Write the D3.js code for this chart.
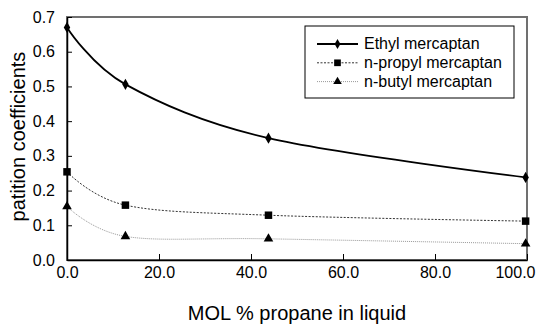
<!DOCTYPE html>
<html>
<head>
<meta charset="utf-8">
<script src="https://cdn.jsdelivr.net/npm/d3@7"></script>
<style>
  body { margin: 0; background: #fff; }
  svg { display: block; font-family: "Liberation Sans", Arial, sans-serif; }
</style>
</head>
<body>
<script>
// values
const molPropane = [0, 12.7, 43.8, 99.7];
const ethyl = [0.670, 0.506, 0.351, 0.238];
const propyl = [0.254, 0.158, 0.129, 0.112];
const butyl = [0.154, 0.068, 0.061, 0.047];
const seriesNames = ["Ethyl mercaptan", "n-propyl mercaptan", "n-butyl mercaptan"];
const xTicks = [0, 20, 40, 60, 80, 100];
const yTicks = [0, 0.1, 0.2, 0.3, 0.4, 0.5, 0.6, 0.7];

const width = 536, height = 327;
const margin = { top: 17, right: 9, bottom: 67, left: 67 };

const xScale = d3.scaleLinear().domain([0, 100]).range([margin.left, width - margin.right]);
const yScale = d3.scaleLinear().domain([0, 0.7]).range([height - margin.bottom, margin.top]);

const svg = d3.select("body").append("svg")
  .attr("width", width)
  .attr("height", height)
  .attr("viewBox", [0, 0, width, height]);

// plot frame
svg.append("rect")
  .attr("x", xScale(0))
  .attr("y", yScale(0.7))
  .attr("width", xScale(100) - xScale(0))
  .attr("height", yScale(0) - yScale(0.7))
  .attr("fill", "none")
  .attr("stroke", "#707070")
  .attr("stroke-width", 2);

const fmt = d3.format(".1f");

// axes
const xAxis = d3.axisBottom(xScale).tickValues(xTicks).tickFormat(fmt)
  .tickSizeInner(-6).tickSizeOuter(0).tickPadding(7);
const yAxis = d3.axisLeft(yScale).tickValues(yTicks).tickFormat(fmt)
  .tickSizeInner(-5).tickSizeOuter(0).tickPadding(12);

const gx = svg.append("g")
  .attr("transform", `translate(0,${yScale(0)})`)
  .call(xAxis);
const gy = svg.append("g")
  .attr("transform", `translate(${xScale(0)},0)`)
  .call(yAxis);

[gx, gy].forEach(g => {
  g.select(".domain").attr("stroke", "#000").attr("stroke-width", 1.5);
  g.selectAll(".tick line").attr("stroke", "#000");
  g.selectAll(".tick text").attr("fill", "#000").style("font-size", "16px")
    .style("font-family", "'Liberation Sans', Arial, sans-serif");
});
// last x label is pulled inside the chart, like the original
gx.selectAll(".tick text").filter(d => d === 100).attr("text-anchor", "end").attr("x", 8);

// axis titles
svg.append("text")
  .attr("x", (xScale(0) + xScale(100)) / 2)
  .attr("y", 320)
  .attr("text-anchor", "middle")
  .style("font-size", "20px")
  .text("MOL % propane in liquid");

svg.append("text")
  .attr("transform", `translate(25,${(yScale(0) + yScale(0.7)) / 2 - 2}) rotate(-90)`)
  .attr("text-anchor", "middle")
  .style("font-size", "20px")
  .text("patition coefficients");

// series
const series = [
  { name: seriesNames[0], values: ethyl, stroke: "#000", width: 1.8, dash: null, symbol: d3.symbolDiamond, size: 36 },
  { name: seriesNames[1], values: propyl, stroke: "#333", width: 1, dash: "2,1.5", symbol: d3.symbolSquare, size: 56 },
  { name: seriesNames[2], values: butyl, stroke: "#999", width: 1, dash: "1,1", symbol: d3.symbolTriangle, size: 40 }
];

const line = d3.line()
  .x((d, i) => xScale(molPropane[i]))
  .y(d => yScale(d))
  .curve(d3.curveCardinal.tension(0));

series.forEach(s => {
  svg.append("path")
    .attr("d", line(s.values))
    .attr("fill", "none")
    .attr("stroke", s.stroke)
    .attr("stroke-width", s.width)
    .attr("stroke-dasharray", s.dash);

  svg.selectAll(null)
    .data(s.values)
    .enter()
    .append("path")
    .attr("d", d3.symbol().type(s.symbol).size(s.size))
    .attr("transform", (d, i) => `translate(${xScale(molPropane[i])},${yScale(d)})`)
    .attr("fill", "#000");
});

// legend
const legend = svg.append("g");
legend.append("rect")
  .attr("x", 305).attr("y", 26)
  .attr("width", 209).attr("height", 72)
  .attr("fill", "#fff")
  .attr("stroke", "#000")
  .attr("stroke-width", 1);

series.forEach((s, i) => {
  const y = 44 + i * 18.8;
  legend.append("line")
    .attr("x1", 317).attr("x2", 358)
    .attr("y1", y).attr("y2", y)
    .attr("stroke", s.stroke)
    .attr("stroke-width", s.width)
    .attr("stroke-dasharray", s.dash);
  legend.append("path")
    .attr("d", d3.symbol().type(s.symbol).size(s.size * 0.8))
    .attr("transform", `translate(337.5,${y})`)
    .attr("fill", "#000");
  legend.append("text")
    .attr("x", 364).attr("y", y + 5)
    .style("font-size", "16px")
    .text(s.name);
});
</script>
</body>
</html>
